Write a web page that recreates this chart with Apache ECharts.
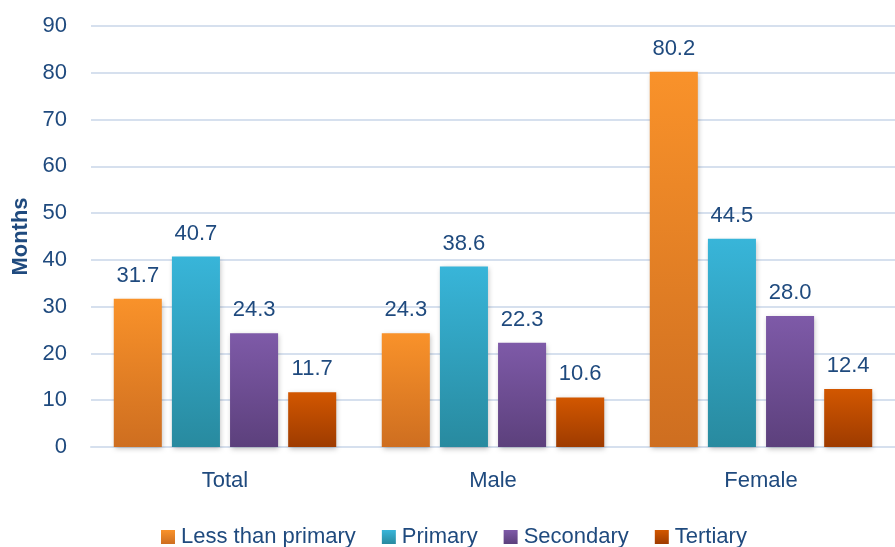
<!DOCTYPE html>
<html><head><meta charset="utf-8">
<script src="https://cdn.jsdelivr.net/npm/echarts@6/dist/echarts.min.js"></script>
<style>html,body{margin:0;padding:0;background:#fff}#c{width:895px;height:547px}</style>
</head><body><div id="c"></div>
<script>
const categories = ['Total', 'Male', 'Female'];
const seriesNames = ['Less than primary', 'Primary', 'Secondary', 'Tertiary'];
const lessThanPrimary = [31.7, 24.3, 80.2];
const primary = [40.7, 38.6, 44.5];
const secondary = [24.3, 22.3, 28.0];
const tertiary = [11.7, 10.6, 12.4];
const yTicks = [0, 10, 20, 30, 40, 50, 60, 70, 80, 90];

const values = [lessThanPrimary, primary, secondary, tertiary];
const colors = [
  ['#F9922A', '#CE6E20'],
  ['#38B5D9', '#288A9F'],
  ['#7E5AA8', '#5C407C'],
  ['#D25700', '#9E3B00']
];
const textColor = '#1F4A7E';
const font = '"Liberation Sans", Arial, sans-serif';

const chart = echarts.init(document.getElementById('c'));
chart.setOption({
  animation: false,
  grid: { left: 91, right: 0, top: 26, bottom: 100, containLabel: false, outerBoundsMode: 'none' },
  legend: {
    top: 521, left: 156,
    itemWidth: 14, itemHeight: 14, itemGap: 26,
    icon: 'rect',
    textStyle: { color: textColor, fontSize: 22, fontFamily: font, padding: [0, 0, 0, 1] },
    data: seriesNames
  },
  xAxis: {
    type: 'category', data: categories,
    axisLine: { show: true, lineStyle: { color: '#D6E0EE', width: 2 } },
    axisTick: { show: false },
    axisLabel: { color: textColor, fontSize: 22, fontFamily: font, margin: 23 }
  },
  yAxis: {
    type: 'value', min: yTicks[0], max: yTicks[yTicks.length - 1], interval: 10,
    name: 'Months', nameLocation: 'middle', nameGap: 58, nameRotate: 90,
    nameTextStyle: { color: textColor, fontSize: 22, fontWeight: 'bold', fontFamily: font },
    axisLine: { show: false }, axisTick: { show: false },
    axisLabel: { color: textColor, fontSize: 22, fontFamily: font, margin: 24 },
    splitLine: { lineStyle: { color: '#D6E0EE', width: 2 } }
  },
  series: seriesNames.map((name, i) => ({
    name, type: 'bar', data: values[i],
    barGap: '21%', barCategoryGap: '17%',
    itemStyle: {
      color: new echarts.graphic.LinearGradient(0, 0, 0, 1, [
        { offset: 0, color: colors[i][0] }, { offset: 1, color: colors[i][1] }
      ]),
      shadowColor: 'rgba(0,0,0,0.25)', shadowBlur: 5, shadowOffsetX: 1, shadowOffsetY: 2
    },
    label: {
      show: true, position: 'top', distance: 12,
      color: textColor, fontSize: 22, fontFamily: font,
      formatter: p => p.value.toFixed(1)
    }
  }))
});
</script></body></html>
